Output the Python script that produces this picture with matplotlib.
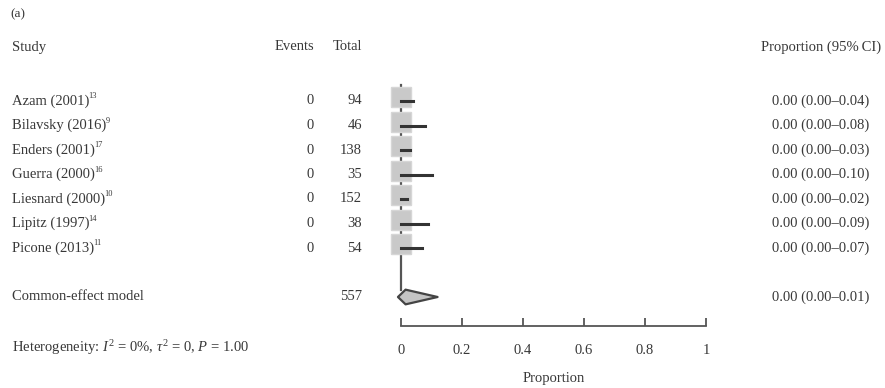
import matplotlib
matplotlib.use("Agg")
import matplotlib.pyplot as plt
import matplotlib.transforms as mtransforms
from matplotlib.patches import Polygon
from matplotlib.ticker import FixedLocator, FuncFormatter

# Study-level data
studies = ["Azam (2001)", "Bilavsky (2016)", "Enders (2001)", "Guerra (2000)",
           "Liesnard (2000)", "Lipitz (1997)", "Picone (2013)"]
refs = ["13", "9", "17", "16", "10", "14", "11"]
events = [0, 0, 0, 0, 0, 0, 0]
totals = [94, 46, 138, 35, 152, 38, 54]
props = [0.00, 0.00, 0.00, 0.00, 0.00, 0.00, 0.00]
ci_low = [0.00, 0.00, 0.00, 0.00, 0.00, 0.00, 0.00]
ci_high = [0.04, 0.08, 0.03, 0.10, 0.02, 0.09, 0.07]

# Pooled estimate
pooled_label = "Common-effect model"
pooled_total = 557
pooled_prop, pooled_low, pooled_high = 0.00, 0.00, 0.01
# diamond as it appears in the printed figure (left, centre, right)
diamond_x = [-0.01, 0.015, 0.12]

het_text = "Heterogeneity: $I^2$ = 0%, $\\tau^2$ = 0, $P$ = 1.00"
xticks = [0, 0.2, 0.4, 0.6, 0.8, 1]

plt.rcParams["font.family"] = ["Liberation Serif", "DejaVu Serif"]
plt.rcParams["mathtext.fontset"] = "custom"
plt.rcParams["mathtext.rm"] = "Liberation Serif"
plt.rcParams["mathtext.it"] = "Liberation Serif:italic"

TXT = "#383838"
FS = 10.5
W, H = 885, 388
ROW0, ROWH = 101, 24.5  # pixel y of first study row and row spacing


def row(py):
    return (py - ROW0) / ROWH


fig = plt.figure(figsize=(W / 100, H / 100), dpi=100)
ax = fig.add_axes([401 / W, 0, 305 / W, 1])
ax.set_xlim(0, 1)
ax.set_ylim(row(H), row(0))
ax.patch.set_alpha(0)
for s in ["top", "left", "right"]:
    ax.spines[s].set_visible(False)
ax.spines["bottom"].set_position(("data", row(326)))
ax.spines["bottom"].set_color("#555555")
ax.spines["bottom"].set_linewidth(1.3)
ax.spines["bottom"].set_bounds(0, 1)
ax.yaxis.set_visible(False)
ax.xaxis.set_major_locator(FixedLocator(xticks))
ax.xaxis.set_major_formatter(FuncFormatter(lambda v, p: "%g" % v))
ax.tick_params(axis="x", direction="in", length=6, width=1.3, color="#555555",
               pad=13, labelsize=FS, labelcolor=TXT)

tr = mtransforms.blended_transform_factory(fig.transFigure, ax.transData)
renderer = fig.canvas.get_renderer()

# headers
fig.text(10 / W, 1 - 14 / H, "(a)", fontsize=FS - 1, color=TXT, va="center")
ax.text(12 / W, row(47), "Study", transform=tr, fontsize=FS, color=TXT, va="center")
ax.text(314 / W, row(47), "Events", transform=tr, fontsize=FS, color=TXT, va="center", ha="right")
ax.text(362 / W, row(47), "Total", transform=tr, fontsize=FS, color=TXT, va="center", ha="right")
ax.text(821 / W, row(47), "Proportion (95%\u2009CI)", transform=tr, fontsize=FS, color=TXT,
        va="center", ha="center")

# vertical reference line at 0
ax.plot([0, 0], [-0.65, row(290)], color="#555555", lw=1.6, zorder=1, clip_on=False)

for i, name in enumerate(studies):
    t = ax.text(12 / W, i, name, transform=tr, fontsize=FS, color=TXT, va="center")
    bb = t.get_window_extent(renderer)
    ax.text((bb.x1 - 1) / W, i - 0.2, refs[i], transform=tr, fontsize=6, color=TXT, va="center")
    ax.text(314 / W, i, str(events[i]), transform=tr, fontsize=FS, color=TXT, va="center", ha="right")
    ax.text(362 / W, i, str(totals[i]), transform=tr, fontsize=FS, color=TXT, va="center", ha="right")
    ax.text(821 / W, i, "%.2f (%.2f\u2013%.2f)" % (props[i], ci_low[i], ci_high[i]), transform=tr,
            fontsize=FS, color=TXT, va="center", ha="center")
    ax.plot(props[i], i - 0.15, marker="s", markersize=14.5, color="#c9c9c9",
            markeredgecolor="#d6d6d6", zorder=2, clip_on=False)
    ax.plot([ci_low[i], ci_high[i]], [i, i], color="#333333", lw=2.2, zorder=3, clip_on=False)

# pooled row
yp = row(297)
ax.text(12 / W, yp, pooled_label, transform=tr, fontsize=FS, color=TXT, va="center")
ax.text(362 / W, yp, str(pooled_total), transform=tr, fontsize=FS, color=TXT, va="center", ha="right")
ax.text(821 / W, yp, "%.2f (%.2f\u2013%.2f)" % (pooled_prop, pooled_low, pooled_high), transform=tr,
        fontsize=FS, color=TXT, va="center", ha="center")
dh = 0.3
ax.add_patch(Polygon([[diamond_x[0], yp], [diamond_x[1], yp - dh],
                      [diamond_x[2], yp], [diamond_x[1], yp + dh]],
                     closed=True, facecolor="#c4c4c4", edgecolor="#444444", lw=1.6,
                     zorder=4, clip_on=False, joinstyle="round"))

ax.text(12 / W, row(348), het_text, transform=tr, fontsize=FS, color=TXT, va="center")
ax.text(0.5, row(378), "Proportion", fontsize=FS, color=TXT, va="center", ha="center")

fig.savefig("out.png", dpi=100, facecolor="white")
